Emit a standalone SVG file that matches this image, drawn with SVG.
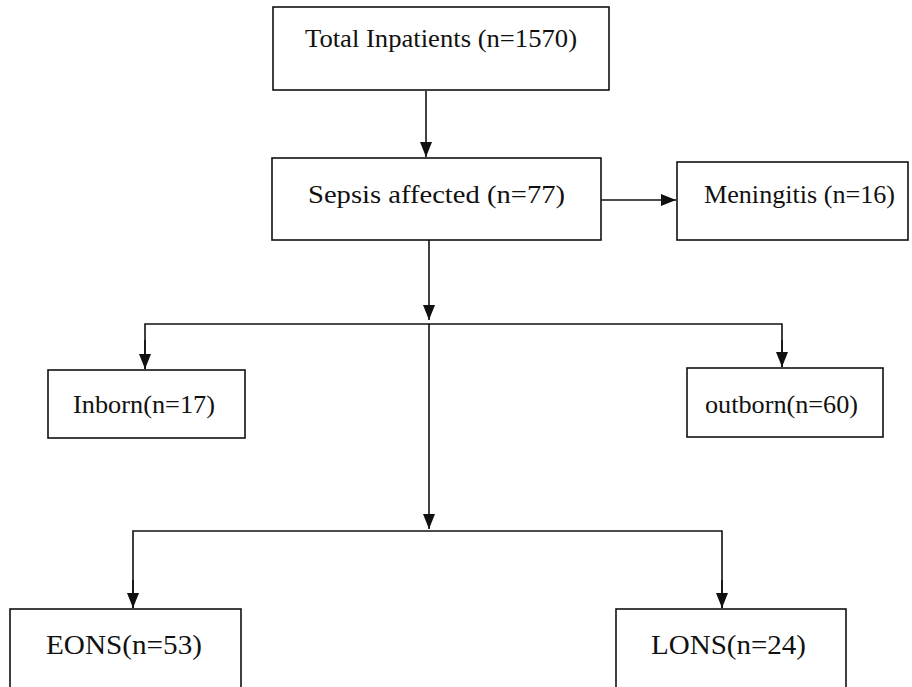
<svg xmlns="http://www.w3.org/2000/svg" width="912" height="687" viewBox="0 0 912 687">
<style>
.box{fill:#fff;stroke:#111;stroke-width:1.6}
.lbl{font-family:"Liberation Serif","Times New Roman",serif;font-size:26px;fill:#111}
.big{font-size:28px}
.ln{fill:none;stroke:#111;stroke-width:1.6}
</style>
<defs>
<marker id="ah" markerUnits="userSpaceOnUse" markerWidth="15" markerHeight="14" viewBox="0 0 15 14" refX="15" refY="7" orient="auto">
<path d="M0,1 L15,7 L0,13 Z" fill="#111"/>
</marker>
</defs>
<rect width="912" height="687" fill="#fff"/>
<g id="connectors">
<line class="ln" x1="426" y1="91" x2="426" y2="157" marker-end="url(#ah)"/>
<line class="ln" x1="601" y1="200" x2="676" y2="200" marker-end="url(#ah)"/>
<line class="ln" x1="429" y1="240" x2="429" y2="320" marker-end="url(#ah)"/>
<polyline class="ln" points="145,369 145,324 782,324 782,367"/>
<line class="ln" x1="145" y1="340" x2="145" y2="369" marker-end="url(#ah)"/>
<line class="ln" x1="782" y1="340" x2="782" y2="367" marker-end="url(#ah)"/>
<line class="ln" x1="429" y1="324" x2="429" y2="529" marker-end="url(#ah)"/>
<polyline class="ln" points="133,608 133,531 722,531 722,608"/>
<line class="ln" x1="133" y1="580" x2="133" y2="608" marker-end="url(#ah)"/>
<line class="ln" x1="722" y1="580" x2="722" y2="608" marker-end="url(#ah)"/>
</g>
<g id="total">
<rect class="box" x="273" y="7" width="336" height="83"/>
<text class="lbl" x="305" y="47" textLength="272" lengthAdjust="spacingAndGlyphs">Total Inpatients (n=1570)</text>
</g>
<g id="sepsis">
<rect class="box" x="272" y="158" width="329" height="82"/>
<text class="lbl" x="308" y="203" font-size="27" textLength="257" lengthAdjust="spacingAndGlyphs">Sepsis affected (n=77)</text>
</g>
<g id="meningitis">
<rect class="box" x="677" y="162" width="231" height="78"/>
<text class="lbl" x="704" y="203" textLength="191" lengthAdjust="spacingAndGlyphs">Meningitis (n=16)</text>
</g>
<g id="inborn">
<rect class="box" x="48" y="370" width="197" height="68"/>
<text class="lbl" x="73" y="413" textLength="142" lengthAdjust="spacingAndGlyphs">Inborn(n=17)</text>
</g>
<g id="outborn">
<rect class="box" x="687" y="368" width="196" height="69"/>
<text class="lbl" x="705" y="413" textLength="153" lengthAdjust="spacingAndGlyphs">outborn(n=60)</text>
</g>
<g id="eons">
<rect class="box" x="10" y="609" width="231" height="100"/>
<text class="lbl big" x="46" y="654" textLength="156" lengthAdjust="spacingAndGlyphs">EONS(n=53)</text>
</g>
<g id="lons">
<rect class="box" x="616" y="609" width="230" height="100"/>
<text class="lbl big" x="651" y="654" textLength="155" lengthAdjust="spacingAndGlyphs">LONS(n=24)</text>
</g>
</svg>
